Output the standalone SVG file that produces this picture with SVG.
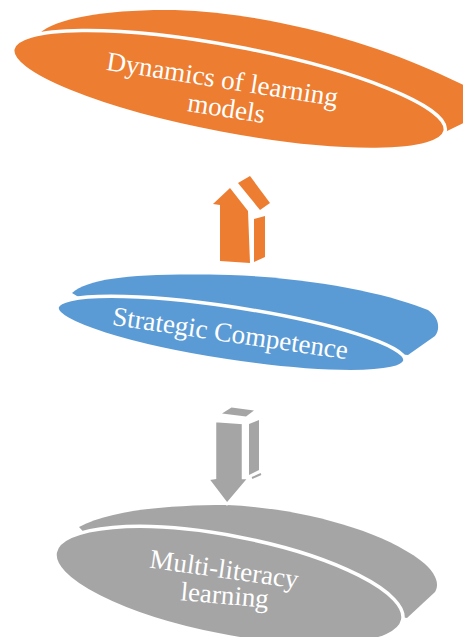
<svg xmlns="http://www.w3.org/2000/svg" width="463" height="637" viewBox="0 0 463 637">
<style>
.front{stroke:#FFFFFF;stroke-width:3.5}
.lbl{font-family:"Liberation Serif","Times New Roman",serif;font-size:27px;fill:#FFFFFF;text-anchor:middle}
.or{fill:#ED7D31}
.bl{fill:#5B9BD5}
.gr{fill:#A5A5A5}
</style>
<rect width="463" height="637" fill="#FFFFFF"/>
<g id="node-dynamics">
<path class="or" d="M40,33 C55,18 110,9 175,10 C270,13 370,42 440,74 L470,88 L470,120 L443,133 L300,120 L100,60 Z"/>
<ellipse class="or front" cx="229" cy="90" rx="220" ry="44" transform="rotate(10.7 229 90)"/>
<text class="lbl" x="221" y="88" transform="rotate(9 221 88)">Dynamics of learning</text>
<text class="lbl" x="225" y="117" transform="rotate(9 225 117)">models</text>
</g>
<g id="node-strategic">
<path class="bl" d="M72,293 C90,277 140,273 230,275 C320,278 395,296 428,310 C440,318 440,330 435,336 L408,355 L300,345 L100,310 Z"/>
<ellipse class="bl front" cx="231" cy="334" rx="176" ry="27" transform="rotate(8.7 231 334)"/>
<text class="lbl" x="229" y="342" transform="rotate(8.4 229 342)">Strategic Competence</text>
</g>
<g id="node-multiliteracy">
<path class="gr" d="M79,527 C110,510 170,505 227,505 C300,508 380,530 420,560 C436,572 440,584 435,592 L407,618 L300,600 L100,550 Z"/>
<ellipse class="gr front" cx="229" cy="586" rx="177" ry="50" transform="rotate(11 229 586)"/>
<text class="lbl" x="223" y="578" transform="rotate(8 223 578)">Multi-literacy</text>
<text class="lbl" x="224" y="604" transform="rotate(5 224 604)">learning</text>
</g>
<g id="connectors">
<g id="arrow-up">
<polygon class="or" points="230,188 248,211 250,263 220,261 220,205 213,204"/>
<polygon class="or" points="238,183 250,176 270,203 260,210"/>
<polygon class="or" points="254,219 265,216 265,257 254,262"/>
</g>
<g id="arrow-down">
<polygon class="gr" points="222,413.5 231.5,407.5 254,410.5 246,416.5"/>
<polygon class="gr" points="249,424 259,420 259,470 249,475"/>
<line x1="252" y1="478" x2="261" y2="474" stroke="#A5A5A5" stroke-width="2"/>
<polygon class="gr" points="215,421 243,423 243,478 249,478 227,504 208,479 215,478" stroke="#FFFFFF" stroke-width="2.5" stroke-linejoin="miter"/>
</g>
</g>
</svg>
